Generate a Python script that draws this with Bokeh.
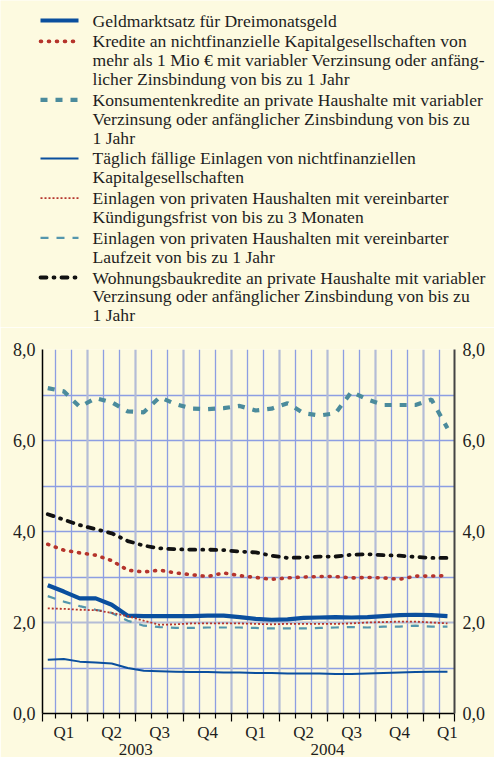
from bokeh.plotting import figure
from bokeh.models import Range1d, LinearAxis, FixedTicker, Grid
from bokeh.embed import file_html
from bokeh.resources import INLINE
from bokeh.core.properties import value

# ---------------- data ----------------
months = ["2003-01", "2003-02", "2003-03", "2003-04", "2003-05", "2003-06",
          "2003-07", "2003-08", "2003-09", "2003-10", "2003-11", "2003-12",
          "2004-01", "2004-02", "2004-03", "2004-04", "2004-05", "2004-06",
          "2004-07", "2004-08", "2004-09", "2004-10", "2004-11", "2004-12",
          "2005-01", "2005-02"]

geldmarkt = [2.82, 2.68, 2.53, 2.53, 2.39, 2.15, 2.14, 2.14, 2.14, 2.14, 2.15, 2.15, 2.12,
             2.08, 2.06, 2.07, 2.10, 2.11, 2.12, 2.11, 2.12, 2.14, 2.16, 2.17, 2.16, 2.14]
kredite_nfk = [3.72, 3.59, 3.53, 3.48, 3.36, 3.15, 3.11, 3.15, 3.09, 3.05, 3.01, 3.09, 3.03,
               2.99, 2.95, 2.98, 3.00, 3.01, 3.01, 2.98, 2.99, 2.98, 2.95, 3.02, 3.02, 3.03]
konsumenten = [7.15, 7.08, 6.74, 6.93, 6.84, 6.64, 6.62, 6.95, 6.80, 6.70, 6.69, 6.71, 6.76,
               6.66, 6.70, 6.82, 6.60, 6.55, 6.60, 7.07, 6.90, 6.78, 6.78, 6.78, 6.90, 6.27]
taeglich = [1.18, 1.20, 1.14, 1.12, 1.10, 1.00, 0.94, 0.93, 0.92, 0.91, 0.91, 0.90, 0.90,
            0.89, 0.89, 0.88, 0.88, 0.88, 0.87, 0.87, 0.88, 0.89, 0.90, 0.91, 0.92, 0.92]
kuendigung = [2.31, 2.30, 2.28, 2.27, 2.21, 2.14, 2.04, 1.95, 1.96, 1.98, 1.98, 1.98, 1.98,
              1.97, 1.96, 1.97, 1.97, 1.97, 1.97, 1.98, 2.00, 2.01, 2.02, 2.02, 2.00, 1.98]
laufzeit = [2.58, 2.46, 2.36, 2.28, 2.21, 2.04, 1.93, 1.90, 1.88, 1.88, 1.89, 1.89, 1.89,
            1.88, 1.87, 1.87, 1.87, 1.88, 1.89, 1.90, 1.89, 1.91, 1.91, 1.93, 1.91, 1.91]
wohnungsbau = [4.38, 4.26, 4.14, 4.05, 3.96, 3.79, 3.69, 3.63, 3.61, 3.60, 3.60, 3.59, 3.56,
               3.54, 3.47, 3.42, 3.43, 3.45, 3.45, 3.49, 3.50, 3.48, 3.47, 3.44, 3.42, 3.42]

legend_texts = [
    ["Geldmarktsatz für Dreimonatsgeld"],
    ["Kredite an nichtfinanzielle Kapitalgesellschaften von",
     "mehr als 1 Mio € mit variabler Verzinsung oder anfäng-",
     "licher Zinsbindung von bis zu 1 Jahr"],
    ["Konsumentenkredite an private Haushalte mit variabler",
     "Verzinsung oder anfänglicher Zinsbindung von bis zu",
     "1 Jahr"],
    ["Täglich fällige Einlagen von nichtfinanziellen",
     "Kapitalgesellschaften"],
    ["Einlagen von privaten Haushalten mit vereinbarter",
     "Kündigungsfrist von bis zu 3 Monaten"],
    ["Einlagen von privaten Haushalten mit vereinbarter",
     "Laufzeit von bis zu 1 Jahr"],
    ["Wohnungsbaukredite an private Haushalte mit variabler",
     "Verzinsung oder anfänglicher Zinsbindung von bis zu",
     "1 Jahr"],
]

q_pos = [1, 4, 7, 10, 13, 16, 19, 22, 25]
q_labels = ["Q1", "Q2", "Q3", "Q4", "Q1", "Q2", "Q3", "Q4", "Q1"]
year_pos = [5.5, 17.5]
year_labels = ["2003", "2004"]
y_ticks = [0, 2, 4, 6, 8]
y_labels = ["0,0", "2,0", "4,0", "6,0", "8,0"]

# ---------------- styles ----------------
BG = "#fdfae0"
BLUE = "#0a4f9e"
RED = "#b5342c"
TEAL = "#4b8b9c"
TEAL2 = "#5496ad"
BLACK = "#111111"
GRID_BLUE = "#8d9ee2"
GRID_GRAY = "#b4bcd6"
FONT = "Liberation Serif"
TXT = "#1e1e1e"

styles = [
    dict(line_color=BLUE, line_width=4.2),
    dict(line_color=RED, line_width=3.6, line_dash="1 7", line_cap="round"),
    dict(line_color=TEAL, line_width=4.2, line_dash="7 8"),
    dict(line_color=BLUE, line_width=2.0),
    dict(line_color=RED, line_width=1.8, line_dash="2 2"),
    dict(line_color=TEAL2, line_width=2.2, line_dash="8 8"),
    dict(line_color=BLACK, line_width=3.8, line_dash="6 7 1 7", line_cap="round"),
]
series = [geldmarkt, kredite_nfk, konsumenten, taeglich, kuendigung, laufzeit, wohnungsbau]

W = 494
LEG_H = 327
CH_H = 430

# ---------------- legend figure ----------------
leg = figure(width=W, height=LEG_H, x_range=Range1d(0, W), y_range=Range1d(LEG_H, 0),
             output_backend="svg", toolbar_location=None, x_axis_type=None, y_axis_type=None,
             min_border=0, outline_line_color=None,
             background_fill_color=BG, border_fill_color=BG)
leg.xgrid.visible = False
leg.ygrid.visible = False

line_step = 18.8
item_gap = 20.9
yc = 20.0
tx, ty, tt = [], [], []
for lines, st in zip(legend_texts, styles):
    leg.line([40, 78], [yc, yc], **st)
    for k, ln in enumerate(lines):
        tx.append(92)
        ty.append(yc + k * line_step)
        tt.append(ln)
    yc += (len(lines) - 1) * line_step + item_gap
leg.text(x=tx, y=ty, text=tt, text_font=value(FONT), text_font_size="17.6px",
         text_baseline="middle", text_align="left", text_color=TXT)

# ---------------- chart figure ----------------
x = list(range(len(months)))
x_lo, x_hi = -0.33, len(months) - 1 + 0.44
p = figure(width=W, height=CH_H, x_range=Range1d(x_lo, x_hi), y_range=Range1d(0, 8),
           output_backend="svg", toolbar_location=None,
           min_border_left=42, min_border_right=40, min_border_top=22, min_border_bottom=0,
           background_fill_color=BG, border_fill_color=BG, outline_line_color=None)

month_bounds = [i + 0.5 for i in range(len(months) - 1)]
quarter_bounds = [b for b in month_bounds if int(b + 0.5) % 3 == 0]
other_bounds = [b for b in month_bounds if b not in quarter_bounds]

# grids
p.xgrid.ticker = FixedTicker(ticks=other_bounds)
p.xgrid.grid_line_color = GRID_BLUE
p.xgrid.grid_line_width = 1.3
p.add_layout(Grid(dimension=0, ticker=FixedTicker(ticks=quarter_bounds),
                  grid_line_color=GRID_GRAY, grid_line_width=2.2))
p.ygrid.ticker = FixedTicker(ticks=[1, 3, 4, 5, 6, 7, 8])
p.ygrid.grid_line_color = GRID_BLUE
p.ygrid.grid_line_width = 1.3
p.add_layout(Grid(dimension=1, ticker=FixedTicker(ticks=[2]),
                  grid_line_color=GRID_GRAY, grid_line_width=2.2))

# series
draw_order = [2, 6, 1, 5, 0, 4, 3]
for idx in draw_order:
    p.line(x, series[idx], **styles[idx])

# y axes
yl = p.yaxis[0]
yl.ticker = FixedTicker(ticks=y_ticks)
yl.major_label_overrides = {t: l for t, l in zip(y_ticks, y_labels)}
yl.major_tick_line_color = None
yl.minor_tick_line_color = None
yl.major_tick_out = 0
yl.minor_tick_out = 0
yl.axis_line_color = "#000000"
yl.axis_line_width = 1.5
yl.major_label_standoff = 7
yl.major_label_text_font = FONT
yl.major_label_text_font_size = "18px"
yl.major_label_text_color = TXT

yr = LinearAxis(ticker=FixedTicker(ticks=y_ticks),
                major_label_overrides={t: l for t, l in zip(y_ticks, y_labels)},
                major_tick_line_color=None, minor_tick_line_color=None,
                major_tick_out=0, minor_tick_out=0,
                axis_line_color="#444444", axis_line_width=2,
                major_label_standoff=8, major_label_text_font=FONT,
                major_label_text_font_size="18px", major_label_text_color=TXT)
p.add_layout(yr, "right")

# x axis: ticks only
xa = p.xaxis[0]
xa.ticker = FixedTicker(ticks=[x_lo] + quarter_bounds + [x_hi], minor_ticks=other_bounds)
xa.major_tick_out = 8
xa.major_tick_in = 0
xa.minor_tick_out = 5
xa.minor_tick_in = 0
xa.major_tick_line_color = "#000000"
xa.minor_tick_line_color = "#000000"
xa.major_tick_line_width = 1.2
xa.minor_tick_line_width = 1.2
xa.axis_line_color = "#000000"
xa.axis_line_width = 1.5
xa.major_label_text_color = None
xa.major_label_text_font_size = "1px"
xa.major_label_standoff = 0

# quarter labels
xq = LinearAxis(ticker=FixedTicker(ticks=q_pos),
                major_label_overrides={t: l for t, l in zip(q_pos, q_labels)},
                major_tick_line_color=None, minor_tick_line_color=None, axis_line_color=None,
                major_tick_out=0, minor_tick_out=0,
                major_label_standoff=1, major_label_text_font=FONT,
                major_label_text_font_size="17px", major_label_text_color=TXT)
p.add_layout(xq, "below")

# year labels
xy = LinearAxis(ticker=FixedTicker(ticks=year_pos),
                major_label_overrides={t: l for t, l in zip(year_pos, year_labels)},
                major_tick_line_color=None, minor_tick_line_color=None, axis_line_color=None,
                major_tick_out=0, minor_tick_out=0,
                major_label_standoff=-1, major_label_text_font=FONT,
                major_label_text_font_size="17px", major_label_text_color=TXT)
p.add_layout(xy, "below")

open("out.html", "w").write(file_html([leg, p], INLINE))
